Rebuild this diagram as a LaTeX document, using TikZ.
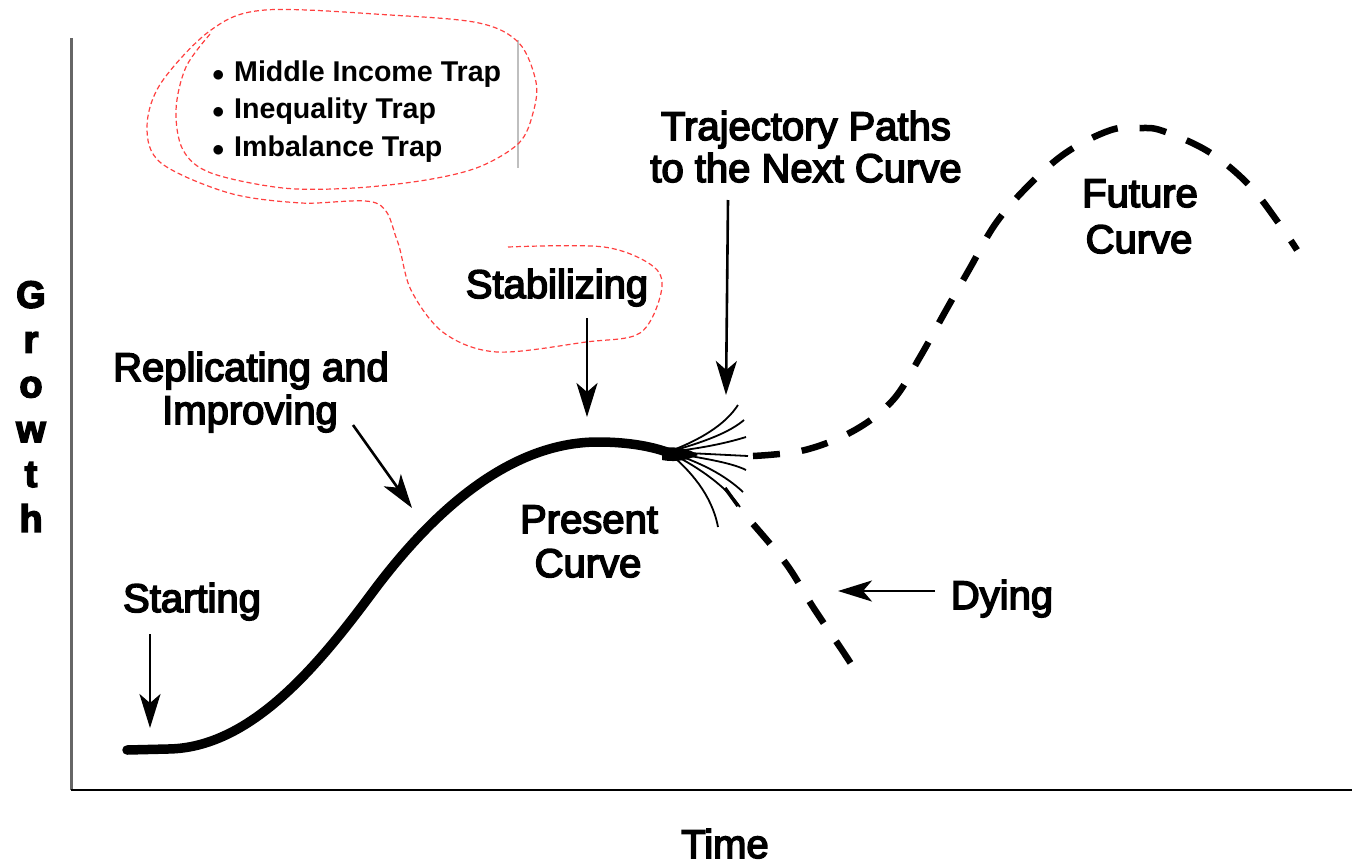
\documentclass[tikz,border=0pt]{standalone}
\usepackage{fontspec}
\setmainfont{Liberation Sans}
\newfontfamily\lblfont{Liberation Sans}[FakeBold=4]
\usetikzlibrary{arrows.meta}
\begin{document}
\begin{tikzpicture}[x=1pt,y=-1pt,
  lbl/.style={font=\lblfont\fontsize{40}{48}\selectfont, inner sep=0pt, anchor=base},
  bul/.style={font=\bfseries\fontsize{28.6}{34}\selectfont, inner sep=0pt, anchor=base west},
  pointer/.style={line width=2.6pt, -{Stealth[length=34pt,width=21pt,inset=9pt]}},
  curvemain/.style={line width=9.5pt, line cap=round},
  futuredash/.style={line width=6.5pt, dash pattern=on 27pt off 22pt},
  fanline/.style={line width=1.8pt},
  lasso/.style={draw=red!75!white, line width=1.2pt, dash pattern=on 5pt off 3pt},
  axisv/.style={draw=black!60, line width=3pt},
  axish/.style={draw=black, line width=2pt}]
\useasboundingbox (0,0) rectangle (1352,865);
% axes
\coordinate (origin) at (71,790);
\coordinate (ytop) at (71,38);
\coordinate (xend) at (1352,790);
\draw[axisv] (origin) -- (ytop);
\draw[axish] (origin) -- (xend);
\node[font=\lblfont\bfseries\fontsize{38}{44.8}\selectfont, inner sep=0pt, anchor=north, align=center] (growth) at (31,281) {G\\r\\o\\w\\t\\h};
\node[lbl] (time) at (725,858) {Time};
% bullet list
\coordinate (gl1) at (518,40);
\coordinate (gl2) at (518,168);
\draw[draw=black!25, line width=1.5pt] (gl1) -- (gl2);
\node[bul] (b1) at (212,81) {$\bullet$\,\,Middle Income Trap};
\node[bul] (b2) at (212,118) {$\bullet$\,\,Inequality Trap};
\node[bul] (b3) at (212,156) {$\bullet$\,\,Imbalance Trap};
% lasso
\draw[lasso] plot[smooth, tension=0.55] coordinates {
 (508,247) (604,247) (654,267) (661,293) (640,333) (586,342) (497,352) (444,333)
 (411,290) (397,240) (376,203) (301,203) (229,193) (161,163) (147,127) (161,83)
 (211,30) (265,10) (390,15) (479,23) (519,43) (536,82) (533,113) (519,143)
 (479,167) (426,180) (354,188) (283,188) (211,173) (183,150) (176,110) (186,67) (211,33)};
% labels
\node[lbl] (traj1) at (806,140) {Trajectory Paths};
\node[lbl] (traj2) at (806,182) {to the Next Curve};
\node[lbl] (fut1) at (1140,207) {Future};
\node[lbl] (fut2) at (1139,253) {Curve};
\node[lbl] (stab) at (557,298) {Stabilizing};
\node[lbl] (rep1) at (251,381) {Replicating and};
\node[lbl] (rep2) at (250,424) {Improving};
\node[lbl] (pres1) at (589,533) {Present};
\node[lbl] (pres2) at (588,577) {Curve};
\node[lbl] (start) at (192,612) {Starting};
\node[lbl] (dying) at (1002,609) {Dying};
% main curve
\coordinate (m0) at (127,750);
\coordinate (m0b) at (168,749);
\coordinate (m1) at (372,593);
\coordinate (m2) at (598,442);
\coordinate (m3) at (672,454);
\draw[curvemain] (m0) -- (m0b) .. controls (250,748) and (317,667) .. (m1)
  .. controls (427,519) and (505,442) .. (m2)
  .. controls (630,442) and (655,447) .. (m3);
% fan
\coordinate (root) at (668,452);
\coordinate (f1) at (738,405);
\coordinate (f2) at (744,420);
\coordinate (f3) at (746,437);
\coordinate (f4) at (748,456);
\coordinate (f5) at (746,470);
\coordinate (f6) at (743,492);
\coordinate (f7) at (740,507);
\coordinate (f8) at (718,527);
\draw[fanline] (root) .. controls (700,440) and (725,425) .. (f1);
\draw[fanline] (root) .. controls (705,442) and (730,432) .. (f2);
\draw[fanline] (root) .. controls (705,448) and (730,442) .. (f3);
\draw[fanline] (root) -- (f4);
\draw[fanline] (root) .. controls (700,458) and (730,462) .. (f5);
\draw[fanline] (root) .. controls (700,462) and (725,475) .. (f6);
\draw[fanline] (root) .. controls (695,465) and (725,485) .. (f7);
\draw[fanline] (root) .. controls (690,470) and (712,495) .. (f8);
\fill (662,448) .. controls (678,446) and (690,449) .. (698,455)
  .. controls (690,459) and (678,463) .. (662,460) -- cycle;
\draw[line width=3.5pt] (725,488) -- (738,506);
% future curve
\draw[futuredash] plot[smooth, tension=0.6] coordinates {
 (753,456) (805,450) (855,430) (893,400) (920,357) (945,312) (970,268) (996,223)
 (1029,185) (1067,152) (1111,130) (1140,128) (1163,131) (1209,152) (1249,185) (1280,225) (1297,250)};
% dying curve
\draw[futuredash, dash pattern=on 26pt off 22pt] plot[smooth, tension=0.6] coordinates {
 (753,524) (787,565) (813,607) (842,650) (857,673)};
% arrows
\coordinate (startT) at (150,634);
\coordinate (startH) at (150,728);
\coordinate (repT) at (353,425);
\coordinate (repH) at (412,508);
\coordinate (stabT) at (587,318);
\coordinate (stabH) at (587,417);
\coordinate (trajT) at (728,200);
\coordinate (trajH) at (726,395);
\coordinate (dyT) at (935,591);
\coordinate (dyH) at (838,591);
\draw[pointer] (startT) -- (startH);
\draw[pointer] (repT) -- (repH);
\draw[pointer] (stabT) -- (stabH);
\draw[pointer] (trajT) -- (trajH);
\draw[pointer] (dyT) -- (dyH);
\end{tikzpicture}
\end{document}
